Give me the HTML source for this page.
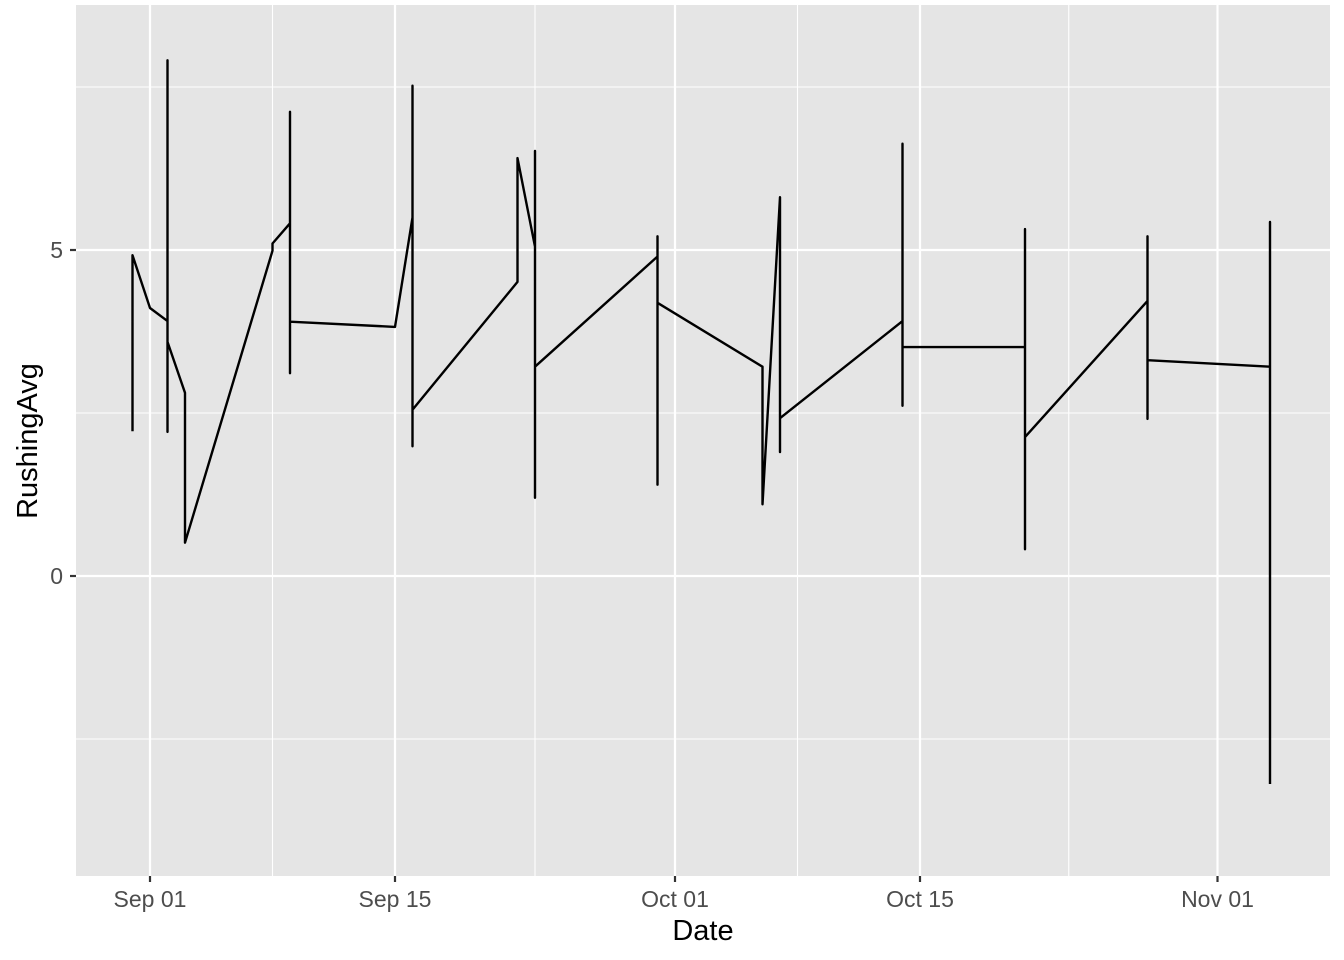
<!DOCTYPE html>
<html><head><meta charset="utf-8"><style>
body{margin:0;background:#fff;}
svg{display:block;font-family:"Liberation Sans",Arial,sans-serif;}
</style></head><body>
<svg id="chart" width="1344" height="960">
<rect x="0" y="0" width="1344" height="960" fill="#fff"/>
<rect x="76" y="5" width="1254" height="871" fill="#e5e5e5"/>
<g id="grid"></g><g id="axes"></g><g id="series"></g>
<text x="703" y="940" font-size="29" text-anchor="middle" fill="#000">Date</text>
<text transform="translate(37,441) rotate(-90)" font-size="29" text-anchor="middle" fill="#000">RushingAvg</text>
</svg>
<script>
// days since Sep 01, and values, in path order
const days = [-1,-1,0,1,1,1,1,2,2,7,7,8,8,8,8,14,15,15,15,15,21,21,22,22,22,22,29,29,29,29,35,35,36,36,36,43,43,43,43,50,50,50,50,57,57,57,57,64,64,64];
const values = [2.22,4.92,4.11,3.91,7.91,2.21,3.59,2.81,0.51,4.99,5.1,5.41,7.12,3.11,3.9,3.82,5.5,7.52,1.99,2.55,4.51,6.41,5.05,6.52,1.2,3.21,4.9,5.21,1.4,4.19,3.21,1.1,5.81,1.9,2.42,3.91,6.63,2.61,3.51,3.51,5.32,0.41,2.13,4.22,5.21,2.41,3.31,3.21,5.43,-3.19];
const xTickDays = [0,14,30,44,61];
const xTickLabels = ["Sep 01","Sep 15","Oct 01","Oct 15","Nov 01"];
const xMinorDays = [7,22,37,52.5];
const yTicks = [0,5];
const yMinor = [-2.5,2.5,7.5];

const NS="http://www.w3.org/2000/svg";
const L=76,R=1330,T=5,B=876;
function xs(d){return 150+17.5*d;}
function ys(v){return 576-65.2*v;}
function mk(tag,attrs,parent){const e=document.createElementNS(NS,tag);for(const k in attrs)e.setAttribute(k,attrs[k]);parent.appendChild(e);return e;}
const grid=document.getElementById('grid'),axes=document.getElementById('axes'),series=document.getElementById('series');
yMinor.forEach(v=>{const e=mk('line',{x1:L,x2:R,y1:ys(v),y2:ys(v),stroke:'#fff','stroke-width':1.1},grid);

});
xMinorDays.forEach(d=>{const e=mk('line',{x1:xs(d),x2:xs(d),y1:T,y2:B,stroke:'#fff','stroke-width':1.1},grid);

});
yTicks.forEach(v=>{const e=mk('line',{x1:L,x2:R,y1:ys(v),y2:ys(v),stroke:'#fff','stroke-width':2.2},grid);


const t=mk('line',{x1:L-6,x2:L,y1:ys(v),y2:ys(v),stroke:'#333','stroke-width':2.2},axes);


const lb=mk('text',{x:L-13,y:ys(v)+8,'font-size':23,'text-anchor':'end',fill:'#4d4d4d'},axes);lb.textContent=v;

});
xTickDays.forEach((d,i)=>{const e=mk('line',{x1:xs(d),x2:xs(d),y1:T,y2:B,stroke:'#fff','stroke-width':2.2},grid);


const t=mk('line',{x1:xs(d),x2:xs(d),y1:B,y2:B+6,stroke:'#333','stroke-width':2.2},axes);


const lb=mk('text',{x:xs(d),y:907,'font-size':23,'text-anchor':'middle',fill:'#4d4d4d'},axes);lb.textContent=xTickLabels[i];

});
const pts=days.map((d,i)=>xs(d).toFixed(1)+','+ys(values[i]).toFixed(1)).join(' ');
const pl=mk('polyline',{points:pts,fill:'none',stroke:'#000','stroke-width':2.4,'stroke-linejoin':'round'},series);


</script>
</body></html>
